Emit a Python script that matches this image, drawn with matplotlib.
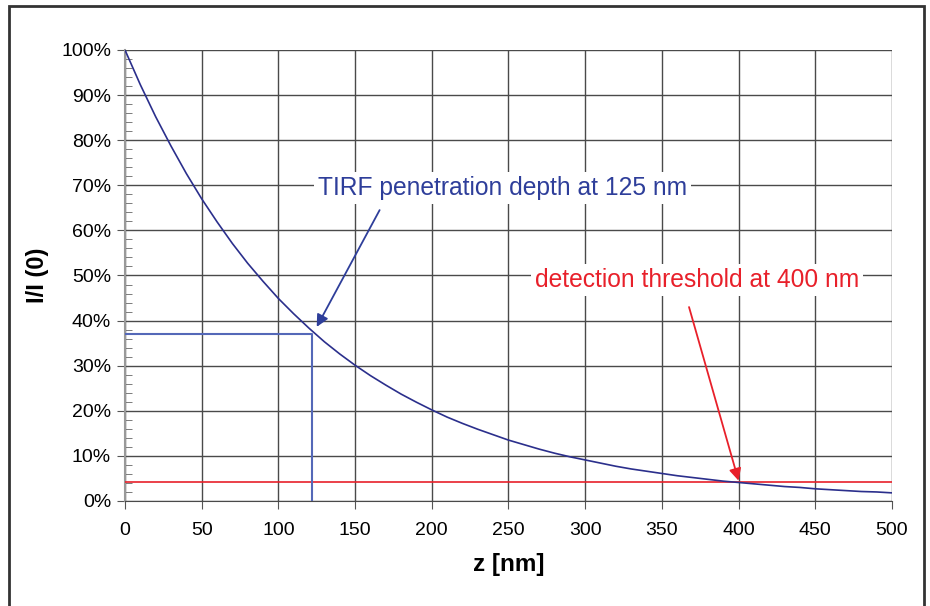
import numpy as np
import matplotlib
matplotlib.use("Agg")
import matplotlib.pyplot as plt
import matplotlib.ticker as ticker
from matplotlib.patches import Rectangle

plt.rcParams['font.family'] = ['Liberation Sans', 'DejaVu Sans']

# Intensity decay (z in nm, I/I(0) as fraction)
z_nm = [0, 10, 20, 30, 40, 50, 60, 70, 80, 90, 100, 110, 120, 130, 140, 150,
        160, 170, 180, 190, 200, 210, 220, 230, 240, 250, 260, 270, 280, 290,
        300, 310, 320, 330, 340, 350, 360, 370, 380, 390, 400, 410, 420, 430,
        440, 450, 460, 470, 480, 490, 500]
intensity = [1.000, 0.923, 0.852, 0.787, 0.726, 0.670, 0.619, 0.571, 0.527,
             0.487, 0.449, 0.415, 0.383, 0.353, 0.326, 0.301, 0.278, 0.257,
             0.237, 0.219, 0.202, 0.186, 0.172, 0.159, 0.147, 0.135, 0.125,
             0.115, 0.106, 0.098, 0.091, 0.084, 0.077, 0.071, 0.066, 0.061,
             0.056, 0.052, 0.048, 0.044, 0.041, 0.038, 0.035, 0.032, 0.030,
             0.027, 0.025, 0.023, 0.021, 0.020, 0.018]

# Marker lines
tirf_depth = 122
tirf_level = 0.371
threshold_level = 0.041
threshold_z = 400

fig = plt.figure(figsize=(9.30, 6.06), dpi=100)
ax = fig.add_axes([0.1344, 0.1733, 0.8247, 0.7442])

# outer frame
fig.patches.append(Rectangle((9 / 930, -0.05), 915 / 930, 1 - 6 / 606 + 0.05,
                             transform=fig.transFigure, fill=False,
                             edgecolor='#333333', linewidth=2))

ax.plot(z_nm, intensity, color='#2b2f8c', linewidth=1.2, zorder=4)
ax.axhline(threshold_level, color='#e8202a', linewidth=1.2, zorder=3)
ax.plot([0, tirf_depth, tirf_depth], [tirf_level, tirf_level, 0],
        color='#5468b8', linewidth=1.5, zorder=3)

ax.set_xlim(0, 500)
ax.set_ylim(0, 1.0)
ax.xaxis.set_major_locator(ticker.MultipleLocator(50))
ax.yaxis.set_major_locator(ticker.MultipleLocator(0.1))
ax.yaxis.set_minor_locator(ticker.MultipleLocator(0.02))
ax.yaxis.set_major_formatter(ticker.FuncFormatter(lambda v, p: f"{v * 100:.0f}%"))
ax.grid(which='major', color='#4a4a4a', linewidth=1.0)
ax.set_axisbelow(True)

ax.tick_params(axis='both', which='major', labelsize=14, length=6,
               color='#555555', direction='out')
ax.tick_params(axis='x', which='major', pad=9)
ax.tick_params(axis='y', which='major', pad=4)
ax.tick_params(axis='y', which='minor', length=5, direction='in', color='#666666')
for s in ['top', 'right']:
    ax.spines[s].set_visible(False)
ax.spines['left'].set_color('#999999')
ax.spines['left'].set_linewidth(1.5)
ax.spines['bottom'].set_color('#4a4a4a')

ax.set_xlabel("z [nm]", fontsize=17.5, fontweight='bold', labelpad=10)
ax.set_ylabel("I/I (0)", fontsize=17, fontweight='bold', labelpad=9)

text_box = dict(boxstyle='square,pad=0.15', fc='white', ec='none')

# TIRF label and arrow
ax.text(246, 0.694, "TIRF penetration depth at 125 nm", color='#2e3e9a',
        fontsize=17.7, ha='center', va='center', bbox=text_box, zorder=5)
ax.annotate("", xy=(125, 0.386), xytext=(166, 0.645),
            arrowprops=dict(arrowstyle='-|>', color='#2e3e9a', lw=1.3,
                            mutation_scale=18, shrinkA=0, shrinkB=0),
            zorder=5)

# detection threshold label and arrow
ax.text(373, 0.49, "detection threshold at 400 nm", color='#e8202a',
        fontsize=17.7, ha='center', va='center', bbox=text_box, zorder=5)
ax.annotate("", xy=(threshold_z, threshold_level + 0.004), xytext=(367.7, 0.430),
            arrowprops=dict(arrowstyle='-|>', color='#e8202a', lw=1.3,
                            mutation_scale=18, shrinkA=0, shrinkB=0),
            zorder=5)

fig.savefig("out.png", dpi=100)
